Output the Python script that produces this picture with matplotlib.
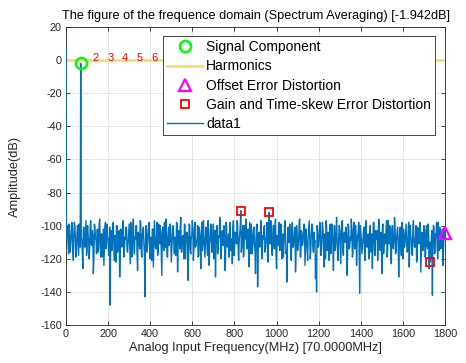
import numpy as np
import matplotlib
matplotlib.use("Agg")
import matplotlib.pyplot as plt

plt.rcParams["font.family"] = ["Liberation Sans", "DejaVu Sans"]
plt.rcParams["axes.unicode_minus"] = False

# spectrum, in dB
# even bins: 0, 5, 10 ... 1800 MHz
bin_width = 5.0
spectrum_even_db = [
    8, -104, -112, -99, -116, -107, -101, -121, -98, -110, -114, -100, -118, -105, -1.942, -109, -126, -101, -113,
    -97, -115, -106, -120, -100, -111, -103, -129, -99, -108, -117, -102, -113, -96, -119, -105, -110, -124, -101,
    -114, -99, -108, -118, -148, -103, -112, -98, -121, -106, -100, -116, -109, -131, -102, -113, -97, -119, -107,
    -101, -115, -110, -99, -123, -104, -112, -96, -117, -108, -100, -127, -105, -114, -98, -119, -103, -111, -143,
    -100, -116, -106, -98, -120, -109, -102, -125, -97, -113, -107, -118, -99, -111, -104, -130, -101, -115, -108,
    -96, -119, -105, -112, -99, -122, -107, -101, -117, -110, -98, -128, -103, -114, -95, -116, -106, -120, -100,
    -111, -104, -133, -99, -115, -107, -97, -121, -102, -113, -109, -100, -118, -105, -126, -98, -112, -106, -119,
    -101, -114, -97, -124, -108, -103, -116, -99, -110, -131, -102, -117, -106, -95, -120, -104, -112, -100, -127,
    -98, -113, -107, -119, -101, -109, -123, -97, -115, -104, -111, -99, -121, -105, -91, -112, -100, -118, -106,
    -96, -114, -102, -125, -108, -99, -117, -103, -110, -129, -100, -137, -104, -113, -97, -120, -106, -101, -116,
    -109, -98, -122, -92, -111, -104, -118, -100, -114, -96, -126, -107, -102, -115, -99, -120, -105, -112, -97,
    -117, -134, -101, -110, -106, -121, -98, -113, -103, -128, -100, -115, -108, -96, -119, -104, -111, -99, -124,
    -102, -114, -107, -97, -120, -105, -100, -116, -110, -132, -140, -103, -112, -98, -118, -106, -101, -125, -109,
    -97, -115, -104, -121, -99, -111, -106, -127, -100, -113, -95, -118, -108, -102, -123, -98, -116, -105, -110,
    -101, -130, -99, -114, -107, -96, -119, -103, -112, -100, -124, -106, -98, -141, -104, -117, -109, -101, -121,
    -97, -113, -105, -118, -100, -110, -126, -98, -115, -103, -108, -121, -96, -112, -104, -129, -99, -116, -107,
    -102, -119, -97, -111, -106, -123, -100, -114, -95, -117, -108, -101, -131, -104, -112, -98, -120, -105, -110,
    -99, -116, -103, -125, -100, -109, -118, -97, -113, -106, -122, -101, -111, -98, -128, -104, -115, -100, -119,
    -103, -112, -99, -126, -122, -107, -142, -100, -117, -105, -98, -120, -109, -101, -114, -106, -124, -102, -104.5,
]
# odd bins: 2.5, 7.5 ... 1797.5 MHz
spectrum_odd_db = [
    -108, -100, -117, -103, -112, -98, -115, -106, -101, -119, -104, -110, -99, -113, -107, -116, -102, -111,
    -105, -118, -100, -109, -114, -97, -112, -106, -120, -101, -108, -103, -116, -99, -111, -105, -119, -102,
    -113, -98, -110, -107, -117, -101, -104, -115, -99, -112, -106, -122, -100, -109, -103, -118, -105, -111,
    -99, -114, -108, -102, -116, -105, -110, -98, -119, -103, -113, -107, -100, -117, -104, -111, -97, -115,
    -106, -101, -118, -109, -103, -112, -99, -115, -107, -121, -102, -110, -105, -114, -98, -116, -108, -100,
    -117, -104, -111, -98, -113, -106, -119, -101, -109, -103, -115, -100, -112, -107, -118, -99, -110, -105,
    -102, -116, -107, -111, -99, -120, -104, -108, -113, -100, -117, -106, -103, -114, -98, -112, -109, -119,
    -101, -110, -105, -115, -97, -113, -108, -102, -118, -104, -111, -99, -116, -106, -120, -103, -109, -100,
    -114, -107, -99, -117, -103, -111, -106, -121, -100, -112, -105, -98, -115, -108, -102, -118, -104, -110,
    -97, -113, -109, -101, -116, -105, -119, -100, -108, -114, -103, -111, -98, -117, -106, -112, -101, -115,
    -107, -99, -118, -104, -110, -102, -115, -108, -100, -113, -106, -120, -103, -109, -97, -116, -105, -111,
    -100, -117, -106, -112, -98, -114, -103, -109, -119, -101, -107, -115, -104, -110, -99, -118, -102, -113,
    -108, -101, -116, -105, -111, -97, -119, -103, -112, -106, -100, -114, -109, -121, -102, -107, -115, -99,
    -112, -104, -109, -118, -100, -113, -106, -102, -116, -98, -110, -105, -120, -101, -114, -107, -103, -117,
    -99, -111, -106, -115, -103, -108, -121, -100, -112, -105, -97, -118, -104, -110, -107, -116, -101, -113,
    -109, -102, -117, -98, -114, -106, -111, -104, -119, -100, -108, -113, -103, -115, -99, -112, -106, -120,
    -101, -116, -105, -110, -98, -118, -107, -103, -113, -100, -115, -109, -102, -117, -105, -111, -97, -114,
    -106, -100, -119, -104, -112, -108, -99, -116, -103, -110, -114, -101, -118, -107, -102, -113, -105, -109,
    -115, -98, -111, -106, -117, -102, -109, -113, -100, -120, -104, -108, -99, -116, -106, -112, -103, -118,
    -100, -114, -107, -110, -119, -103, -108, -101, -116, -105, -112, -98, -115, -106, -111, -102, -117, -107,
]

signal_freq = [70.0]
signal_db = [-1.942]

harmonic_freqs = [140, 210, 280, 350, 420]
harmonic_labels = ["2", "3", "4", "5", "6"]
harmonic_line_x = [0, 1800]
harmonic_line_db = [0, 0]

offset_freq = [1800.0]
offset_db = [-104.5]

gain_skew_freq = [830.0, 965.0, 1730.0]
gain_skew_db = [-91.0, -92.0, -122.0]

# interleave the two bin sets into one spectrum
n = len(spectrum_even_db) + len(spectrum_odd_db)
spectrum_db = np.empty(n)
spectrum_db[0::2] = spectrum_even_db
spectrum_db[1::2] = spectrum_odd_db
freqs = np.arange(n) * bin_width / 2

fig = plt.figure(figsize=(4.66, 3.63), dpi=100)
ax = fig.add_axes([0.1416, 0.1047, 0.8134, 0.8209])

ax.plot(signal_freq, signal_db, linestyle="none", marker="o", ms=8,
        mfc="none", mec="#00ff00", mew=1.8, zorder=5, clip_on=False,
        label="Signal Component")
ax.plot(harmonic_line_x, harmonic_line_db, color="#f2dc6b", lw=1.8,
        zorder=2, label="Harmonics")
ax.plot(offset_freq, offset_db, linestyle="none", marker="^", ms=8,
        mfc="none", mec="#ff00ff", mew=1.6, zorder=5, clip_on=False,
        label="Offset Error Distortion")
ax.plot(gain_skew_freq, gain_skew_db, linestyle="none", marker="s", ms=5.5,
        mfc="none", mec="#ff0000", mew=1.3, zorder=5, clip_on=False,
        label="Gain and Time-skew Error Distortion")
ax.plot(freqs, spectrum_db, color="#0072bd", lw=1.0, zorder=3, label="data1")

for f, lab in zip(harmonic_freqs, harmonic_labels):
    ax.text(f, 1.5, lab, color="#ff0000", fontsize=8, ha="center", va="center",
            zorder=6)

ax.set_xlim(0, 1800)
ax.set_ylim(-160, 20)
ax.set_xticks(np.arange(0, 1801, 200))
ax.set_yticks(np.arange(-160, 21, 20))
ax.grid(True, color="#e3e3e3", lw=0.6)
ax.set_axisbelow(True)
ax.tick_params(direction="in", length=3, width=0.6, top=True, right=True,
               labelsize=7.8, colors="#262626", pad=3)
for s in ax.spines.values():
    s.set_color("#262626")
    s.set_linewidth(0.6)

ax.set_title("The figure of the frequence domain (Spectrum Averaging) [-1.942dB]",
             fontsize=9.2, color="black", pad=6)
ax.set_xlabel("Analog Input Frequency(MHz) [70.0000MHz]", fontsize=9.2,
              color="#262626", labelpad=2)
ax.set_ylabel("Amplitude(dB)", fontsize=9.2, color="#262626")
ax.yaxis.set_label_coords(-0.12, 0.5)

leg = ax.legend(loc="upper left", bbox_to_anchor=(163 / 466, 1 - 36 / 363),
                bbox_transform=fig.transFigure, borderaxespad=0,
                fontsize=10, frameon=True, fancybox=False, framealpha=1,
                edgecolor="#262626", handlelength=2.6, handletextpad=0.2,
                labelspacing=0.38, borderpad=0.3)
leg.get_frame().set_linewidth(0.6)
leg.set_zorder(10)

fig.savefig("out.png", dpi=100)
